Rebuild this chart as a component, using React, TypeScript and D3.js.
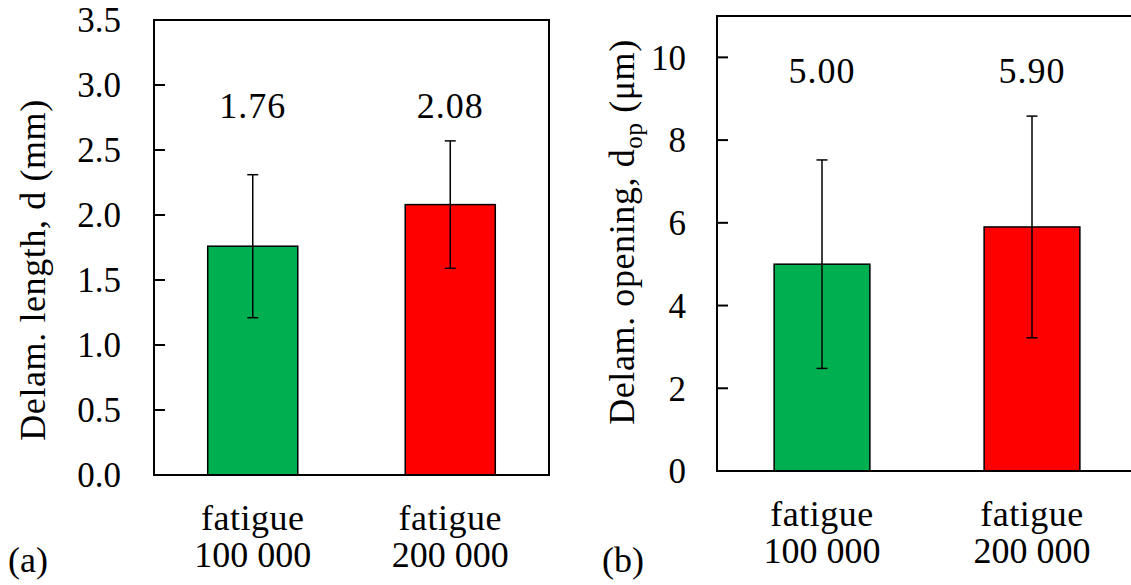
import React from "react";
import * as d3 from "d3";

// categories (two text lines each)
const categories = ["fatigue 100 000", "fatigue 200 000"];
const catLines = [["fatigue", "100 000"], ["fatigue", "200 000"]];
const barColors = ["#00B050", "#FF0000"];

// (a) delamination length, mm
const lengthMeans = [1.76, 2.08];
const lengthErr = [0.55, 0.49];
const lengthTicks = [0, 0.5, 1.0, 1.5, 2.0, 2.5, 3.0, 3.5];

// (b) delamination opening, um
const openingMeans = [5.0, 5.9];
const openingErr = [2.52, 2.68];
const openingTicks = [0, 2, 4, 6, 8, 10];

const FONT = "Liberation Serif, Times New Roman, DejaVu Serif, serif";

type PanelProps = {
  x0: number; x1: number; y0: number; y1: number;
  yMax: number; ticks: number[]; fmt: (v: number) => string;
  means: number[]; errs: number[]; labelY: number;
  tickRight: number; yLabel: React.ReactNode; yLabelX: number; yLabelMid: number;
  tag: string; tagX: number; catY: number;
};

function Panel(p: PanelProps) {
  const x = d3.scaleBand().domain(categories).range([p.x0, p.x1]).paddingInner(0.544).paddingOuter(0.272);
  const y = d3.scaleLinear().domain([0, p.yMax]).range([p.y1, p.y0]);
  const bw = x.bandwidth();
  const cap = 5.5;
  return (
    <g style={{ fontFamily: FONT }} fill="#000">
      {categories.map((c, i) => {
        const cx = x(c)! + bw / 2;
        return (
          <g key={c}>
            <rect x={x(c)} y={y(p.means[i])} width={bw} height={y(0) - y(p.means[i])}
              fill={barColors[i]} stroke="#000" strokeWidth={1.5} />
            <line x1={cx} x2={cx} y1={y(p.means[i] - p.errs[i])} y2={y(p.means[i] + p.errs[i])} stroke="#000" strokeWidth={1.5} />
            <line x1={cx - cap} x2={cx + cap} y1={y(p.means[i] + p.errs[i])} y2={y(p.means[i] + p.errs[i])} stroke="#000" strokeWidth={1.5} />
            <line x1={cx - cap} x2={cx + cap} y1={y(p.means[i] - p.errs[i])} y2={y(p.means[i] - p.errs[i])} stroke="#000" strokeWidth={1.5} />
            <text x={cx} y={p.labelY} textAnchor="middle" fontSize={36} letterSpacing={1}>{p.means[i].toFixed(2)}</text>
            <text x={cx} y={p.catY} textAnchor="middle" fontSize={36} letterSpacing={0.5}>{catLines[i][0]}</text>
            <text x={cx} y={p.catY + 37} textAnchor="middle" fontSize={36}>{catLines[i][1]}</text>
          </g>
        );
      })}
      <rect x={p.x0} y={p.y0} width={p.x1 - p.x0} height={p.y1 - p.y0} fill="none" stroke="#000" strokeWidth={2} />
      {p.ticks.map((t) => (
        <g key={t}>
          {t > 0 && t < p.yMax && (
            <line x1={p.x0} x2={p.x0 + 11} y1={y(t)} y2={y(t)} stroke="#000" strokeWidth={2} />
          )}
          <text x={p.tickRight} y={y(t)} dy="0.35em" textAnchor="end" fontSize={35}>{p.fmt(t)}</text>
        </g>
      ))}
      <text transform={`translate(${p.yLabelX},${p.yLabelMid}) rotate(-90)`} textAnchor="middle" fontSize={36} letterSpacing={0.6}>
        {p.yLabel}
      </text>
      <text x={p.tagX} y={572} fontSize={36}>{p.tag}</text>
    </g>
  );
}

export default function App() {
  return (
    <svg width={1131} height={585} style={{ position: "absolute", left: 0, top: 0, background: "#fff", fontFamily: FONT }}>
      <Panel x0={154} x1={549} y0={20} y1={475} yMax={3.5} ticks={lengthTicks} fmt={d3.format(".1f")}
        means={lengthMeans} errs={lengthErr} labelY={118} tickRight={121}
        yLabel="Delam. length, d (mm)" yLabelX={45} yLabelMid={270} tag="(a)" tagX={8} catY={530} />
      <Panel x0={717} x1={1137} y0={16} y1={471} yMax={11} ticks={openingTicks} fmt={d3.format("d")}
        means={openingMeans} errs={openingErr} labelY={83} tickRight={686}
        yLabel={<>Delam. opening, d<tspan fontSize={25} dy={8}>op</tspan><tspan dy={-8}> (μm)</tspan></>}
        yLabelX={634} yLabelMid={232} tag="(b)" tagX={602} catY={526} />
    </svg>
  );
}
